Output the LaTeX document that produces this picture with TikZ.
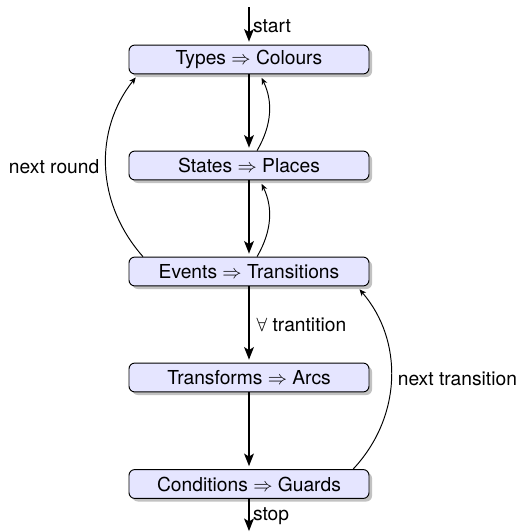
\documentclass[tikz,border=0pt]{standalone}
\usepackage{fontspec}
\setmainfont{TeX Gyre Heros}
\usetikzlibrary{arrows.meta,shadows}
\tikzset{
  stage/.style={draw=black, line width=0.5pt, fill=blue!10, rounded corners=3pt,
    minimum width=124.8pt, minimum height=15pt, inner sep=2pt,
    drop shadow={shadow xshift=1.6pt, shadow yshift=-1.6pt, fill=black!40, opacity=0.6}},
  flow/.style={line width=1.2pt, -{Stealth[length=6.5pt,width=5pt,inset=1.5pt]}, shorten >=1.5pt},
  back/.style={line width=0.5pt, -{Stealth[length=3.5pt,width=3pt,inset=1pt]}, shorten >=2pt}
}
\begin{document}
\begin{tikzpicture}[x=0.52pt,y=-0.52pt]
        \useasboundingbox (0,0) rectangle (517,532);
        \node[stage] (types) at (249,59.5) {Types $\Rightarrow$ Colours};
        \node[stage] (states) at (249,165.5) {States $\Rightarrow$ Places};
        \node[stage] (events) at (249,271.5) {Events $\Rightarrow$ Transitions};
        \node[stage] (arcs) at (249,377.5) {Transforms $\Rightarrow$ Arcs};
        \node[stage] (guards) at (249,484) {Conditions $\Rightarrow$ Guards};
        \coordinate (begin) at (249,7);
        \coordinate (end) at (249,534);
        \draw[flow] (begin) -- node[right, inner sep=1.5pt] {start} (types);
        \draw[flow] (types) -- (states);
        \draw[flow] (states) -- (events);
        \draw[flow] (events) -- node[right] {$\forall$ trantition} (arcs);
        \draw[flow] (arcs) -- (guards);
        \draw[flow] (guards) -- node[right, inner sep=1.5pt] {stop} (end);
        \draw[back] ([xshift=4.2pt]states.north) to[bend right=28] ([xshift=5.7pt]types.south);
        \draw[back] ([xshift=4.2pt]events.north) to[bend right=28] ([xshift=5.7pt]states.south);
        \draw[back] ([xshift=7.5pt]events.north west) to[bend left=40] node[left] {next round} ([xshift=5pt]types.south west);
        \draw[back] ([xshift=-8.5pt]guards.north east) to[bend right=42] node[right] {next transition} ([xshift=-6.5pt]events.south east);
      \end{tikzpicture}
\end{document}
